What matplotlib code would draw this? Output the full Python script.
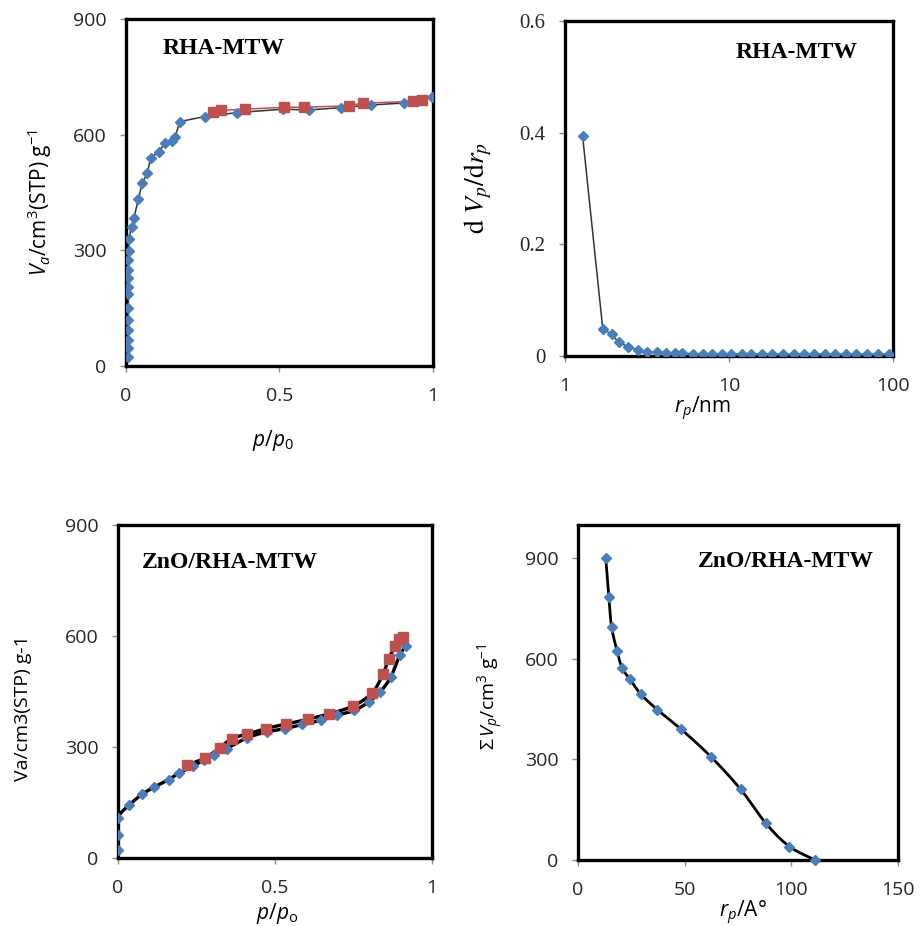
import numpy as np
import matplotlib
matplotlib.use("Agg")
import matplotlib.pyplot as plt

plt.rcParams['font.family'] = ['Open Sans', 'DejaVu Sans']
plt.rcParams['mathtext.fontset'] = 'custom'
plt.rcParams['mathtext.rm'] = 'Open Sans'
plt.rcParams['mathtext.it'] = 'Open Sans:italic'
plt.rcParams['mathtext.bf'] = 'Open Sans:bold'

# ---------------- data ----------------
# Panel 1: RHA-MTW isotherm
ads1_x = [0.0075, 0.0075, 0.0075, 0.0075, 0.0075, 0.0075, 0.008, 0.008, 0.008, 0.008,
          0.008, 0.009, 0.009, 0.018, 0.026, 0.040, 0.053, 0.070, 0.080, 0.107,
          0.128, 0.149, 0.160, 0.176, 0.257, 0.361, 0.511, 0.595, 0.700, 0.797,
          0.905, 0.996]
ads1_y = [23, 46, 67, 92, 119, 150, 187, 206, 227, 249,
          275, 299, 329, 360, 384, 432, 474, 501, 539, 556,
          578, 584, 595, 634, 647, 657, 666, 664, 670, 677,
          682, 697]
des1_x = [0.282, 0.310, 0.388, 0.516, 0.579, 0.726, 0.773, 0.935, 0.965]
des1_y = [658, 663, 666, 671, 671, 675, 682, 686, 689]

# Panel 2: RHA-MTW pore size distribution
psd_r = [1.28, 1.70, 1.93, 2.12, 2.41, 2.78, 3.16, 3.63, 4.12, 4.70,
         5.2, 6.0, 6.9, 7.9, 9.0, 10.3, 12.0, 13.7, 15.9, 18.3,
         21.3, 24.8, 28.5, 32.8, 38.2, 44.5, 51.4, 59.2, 69.6, 81.1, 94.3]
psd_v = [0.394, 0.048, 0.039, 0.0245, 0.0167, 0.0107, 0.0078, 0.0066, 0.005, 0.005,
         0.0045, 0.0042, 0.004, 0.0038, 0.0036, 0.0035, 0.0034, 0.0033, 0.0032, 0.0031,
         0.003, 0.003, 0.003, 0.003, 0.003, 0.003, 0.003, 0.003, 0.003, 0.003, 0.003]

# Panel 3: ZnO/RHA-MTW isotherm
ads3_x = [0.0, 0.0, 0.0, 0.034, 0.076, 0.116, 0.161, 0.195, 0.238, 0.275,
          0.305, 0.347, 0.411, 0.475, 0.533, 0.586, 0.646, 0.697, 0.753, 0.798,
          0.835, 0.869, 0.897, 0.917]
ads3_y = [22, 61, 109, 142, 172, 192, 212, 230, 248, 266,
          278, 296, 325, 341, 350, 361, 372, 386, 399, 422,
          449, 490, 548, 573]
des3_x = [0.220, 0.278, 0.324, 0.363, 0.411, 0.471, 0.535, 0.604, 0.673, 0.749,
          0.809, 0.844, 0.862, 0.883, 0.894, 0.908]
des3_y = [251, 271, 298, 323, 335, 350, 362, 375, 390, 411,
          446, 497, 539, 573, 591, 598]

# Panel 4: ZnO/RHA-MTW cumulative pore volume
cum_r = [13.0, 14.4, 15.7, 18.3, 20.7, 24.3, 29.4, 37.1, 48.2, 62.3, 76.2, 88.1, 99.1, 111.2]
cum_v = [900, 786, 696, 624, 572, 540, 495, 449, 391, 308, 211, 109, 40, 0]

titles = ['RHA-MTW', 'RHA-MTW', 'ZnO/RHA-MTW', 'ZnO/RHA-MTW']

BLUE = '#4A7EBB'
RED = '#C0504D'
TICKC = '#262626'


def smooth(x, y, n=16):
    """Catmull-Rom curve through the given points (drawing only)."""
    p = np.column_stack([x, y]).astype(float)
    p = np.vstack([p[0], p, p[-1]])
    out = []
    t = np.linspace(0, 1, n, endpoint=False)[:, None]
    for i in range(1, len(p) - 2):
        p0, p1, p2, p3 = p[i - 1], p[i], p[i + 1], p[i + 2]
        seg = 0.5 * ((2 * p1) + (-p0 + p2) * t + (2 * p0 - 5 * p1 + 4 * p2 - p3) * t ** 2
                     + (-p0 + 3 * p1 - 3 * p2 + p3) * t ** 3)
        out.append(seg)
    out.append(p[-2][None, :])
    s = np.vstack(out)
    return s[:, 0], s[:, 1]


def style(ax, tickfont=None):
    for s in ax.spines.values():
        s.set_linewidth(2.4)
        s.set_color('black')
    ax.tick_params(direction='out', length=4, width=1, color='#8c8c8c',
                   labelsize=14, labelcolor=TICKC, pad=10)
    ax.tick_params(axis='x', pad=11)
    if tickfont:
        for lab in ax.get_yticklabels():
            lab.set_fontfamily(tickfont)


fig = plt.figure(figsize=(9.19, 9.26), dpi=100)

# ---- Panel 1 ----
ax1 = fig.add_axes([0.1371, 0.6048, 0.334, 0.3747])
ax1.plot(ads1_x, ads1_y, '-', color='#333333', lw=1.1, zorder=2)
ax1.plot(des1_x, des1_y, '-', color=RED, lw=1.1, zorder=2)
ax1.plot(ads1_x, ads1_y, 'D', color=BLUE, ms=5, mec=BLUE, zorder=3)
ax1.plot(des1_x, des1_y, 's', color=RED, ms=7, mec=RED, zorder=3)
ax1.set_xlim(0, 1)
ax1.set_ylim(0, 900)
ax1.set_xticks([0, 0.5, 1])
ax1.set_xticklabels(['0', '0.5', '1'])
ax1.set_yticks([0, 300, 600, 900])
style(ax1)
ax1.set_ylabel(r'$V_a$/cm$^3$(STP) g$^{-1}$', fontsize=15)
ax1.yaxis.set_label_coords(-0.235, 0.47)
ax1.set_xlabel(r'$p$/$p_0$', fontsize=15)
ax1.xaxis.set_label_coords(0.48, -0.18)
ax1.text(0.12, 0.914, titles[0], transform=ax1.transAxes, family='Liberation Serif',
         fontweight='bold', fontsize=17, va='center', ha='left')

# ---- Panel 2 ----
ax2 = fig.add_axes([0.6148, 0.6156, 0.357, 0.3618])
ax2.plot(psd_r, psd_v, '-', color='#333333', lw=1.1, zorder=2)
ax2.plot(psd_r, psd_v, 'D', color=BLUE, ms=5, mec=BLUE, zorder=3)
ax2.set_xscale('log')
ax2.set_xlim(1, 100)
ax2.set_ylim(0, 0.6)
ax2.set_xticks([1, 10, 100])
ax2.set_xticklabels(['1', '10', '100'])
ax2.xaxis.set_minor_locator(matplotlib.ticker.NullLocator())
ax2.set_yticks([0, 0.2, 0.4, 0.6])
ax2.set_yticklabels(['0', '0.2', '0.4', '0.6'])
style(ax2, tickfont='Liberation Serif')
for lab in ax2.get_yticklabels():
    lab.set_fontsize(15)
ax2.set_ylabel(r'$\mathrm{d}\ V_p/\mathrm{d}r_p$', fontsize=20, math_fontfamily='stix')
ax2.yaxis.set_label_coords(-0.215, 0.50)
ax2.set_xlabel(r'$r_p$/nm', fontsize=15)
ax2.xaxis.set_label_coords(0.42, -0.115)
ax2.text(0.52, 0.907, titles[1], transform=ax2.transAxes, family='Liberation Serif',
         fontweight='bold', fontsize=17, va='center', ha='left')

# ---- Panel 3 ----
ax3 = fig.add_axes([0.1284, 0.0734, 0.3417, 0.3596])
sx, sy = smooth(ads3_x, ads3_y)
ax3.plot(sx, sy, '-', color='black', lw=2.4, zorder=2)
sx, sy = smooth(des3_x, des3_y)
ax3.plot(sx, sy, '-', color='black', lw=2.4, zorder=2)
ax3.plot(ads3_x, ads3_y, 'D', color=BLUE, ms=5, mec=BLUE, zorder=3)
ax3.plot(des3_x, des3_y, 's', color=RED, ms=7.5, mec=RED, zorder=3)
ax3.set_xlim(0, 1)
ax3.set_ylim(0, 900)
ax3.set_xticks([0, 0.5, 1])
ax3.set_xticklabels(['0', '0.5', '1'])
ax3.set_yticks([0, 300, 600, 900])
style(ax3)
ax3.set_ylabel('Va/cm3(STP) g-1', fontsize=14)
ax3.yaxis.set_label_coords(-0.274, 0.45)
ax3.set_xlabel(r'$p/p_{\mathrm{o}}$', fontsize=15)
ax3.xaxis.set_label_coords(0.506, -0.13)
ax3.text(0.076, 0.889, titles[2], transform=ax3.transAxes, family='Liberation Serif',
         fontweight='bold', fontsize=17, va='center', ha='left')

# ---- Panel 4 ----
ax4 = fig.add_axes([0.629, 0.0713, 0.3482, 0.3618])
sx, sy = smooth(cum_r, cum_v)
ax4.plot(sx, sy, '-', color='black', lw=2.0, zorder=2)
ax4.plot(cum_r, cum_v, 'D', color=BLUE, ms=5, mec=BLUE, zorder=3, clip_on=False)
ax4.set_xlim(0, 150)
ax4.set_ylim(0, 1000)
ax4.set_xticks([0, 50, 100, 150])
ax4.set_yticks([0, 300, 600, 900])
style(ax4)
ax4.set_ylabel(r'$\Sigma\,V_p$/cm$^3$ g$^{-1}$', fontsize=14)
ax4.yaxis.set_label_coords(-0.224, 0.487)
ax4.set_xlabel(r'$r_p$/A°', fontsize=15)
ax4.xaxis.set_label_coords(0.515, -0.115)
ax4.text(0.375, 0.89, titles[3], transform=ax4.transAxes, family='Liberation Serif',
         fontweight='bold', fontsize=17, va='center', ha='left')

fig.savefig('out.png', dpi=100)
